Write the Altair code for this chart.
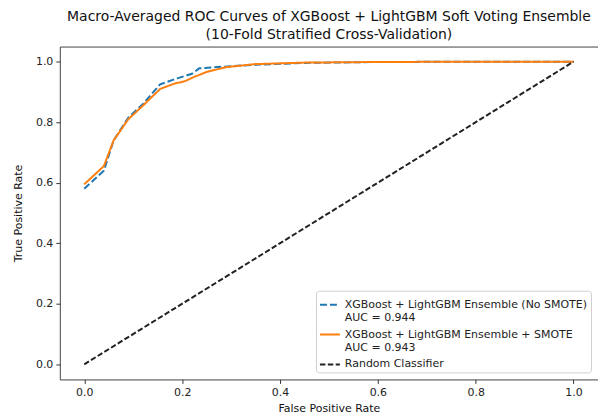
import altair as alt
import pandas as pd

# Series names (| marks a line break in the legend label)
s_no = "XGBoost + LightGBM Ensemble (No SMOTE)|AUC = 0.944"
s_sm = "XGBoost + LightGBM Ensemble + SMOTE|AUC = 0.943"
s_rc = "Random Classifier"

fpr_no = [0.0, 0.04, 0.06, 0.09, 0.12, 0.155, 0.19, 0.22, 0.235, 0.28, 0.35, 0.45, 0.6, 0.8, 1.0]
tpr_no = [0.58, 0.64, 0.74, 0.815, 0.86, 0.925, 0.945, 0.96, 0.978, 0.983, 0.99, 0.996, 0.999, 1.0, 1.0]

fpr_sm = [0.0, 0.04, 0.06, 0.09, 0.12, 0.155, 0.185, 0.205, 0.225, 0.25, 0.29, 0.35, 0.45, 0.6, 0.8, 1.0]
tpr_sm = [0.595, 0.655, 0.74, 0.81, 0.855, 0.91, 0.928, 0.935, 0.95, 0.966, 0.982, 0.992, 0.997, 0.999, 1.0, 1.0]

fpr_rc = [0.0, 1.0]
tpr_rc = [0.0, 1.0]

ticks = [0.0, 0.2, 0.4, 0.6, 0.8, 1.0]

rows = []
for name, fx, ty in [(s_no, fpr_no, tpr_no), (s_sm, fpr_sm, tpr_sm), (s_rc, fpr_rc, tpr_rc)]:
    for i, (a, b) in enumerate(zip(fx, ty)):
        rows.append({"series": name, "fpr": a, "tpr": b, "i": i})
df = pd.DataFrame(rows)

domain = [s_no, s_sm, s_rc]

chart = alt.Chart(df).mark_line().encode(
    x=alt.X("fpr:Q", title="False Positive Rate",
            scale=alt.Scale(domain=[-0.05, 1.05], nice=False, zero=False),
            axis=alt.Axis(values=ticks, format=".1f", titlePadding=5)),
    y=alt.Y("tpr:Q", title="True Positive Rate",
            scale=alt.Scale(domain=[-0.05, 1.05], nice=False, zero=False),
            axis=alt.Axis(values=ticks, format=".1f", titlePadding=12)),
    color=alt.Color("series:N", sort=domain,
                    scale=alt.Scale(domain=domain, range=["#1f77b4", "#ff7f0e", "#222222"]),
                    legend=alt.Legend(title=None, orient="none", legendX=257, legendY=245,
                                      labelExpr="split(datum.label, '|')",
                                      symbolType="stroke", symbolSize=400,
                                      symbolStrokeWidth=2, labelFontSize=11,
                                      labelFont="DejaVu Sans", labelColor="#222",
                                      fillColor="white", strokeColor="#d0d0d0",
                                      padding=3, cornerRadius=3, rowPadding=1,
                                      labelLimit=400)),
    strokeDash=alt.StrokeDash("series:N", sort=domain,
                              scale=alt.Scale(domain=domain, range=[[7, 3], [1, 0], [5.5, 2.4]])),
    strokeWidth=alt.StrokeWidth("series:N", sort=domain,
                                scale=alt.Scale(domain=domain, range=[2, 2, 1.5]), legend=None),
    order="i:Q",
).properties(
    width=540, height=334,
    title=alt.Title(["Macro-Averaged ROC Curves of XGBoost + LightGBM Soft Voting Ensemble",
                     "(10-Fold Stratified Cross-Validation)"],
                    font="DejaVu Sans", fontSize=14, fontWeight="normal", color="#111",
                    anchor="middle", offset=5, lineHeight=18),
    autosize=alt.AutoSizeParams(type="none"),
    padding={"left": 52, "top": 38, "right": 0, "bottom": 34},
).configure_view(
    stroke="#444", strokeWidth=1
).configure_axis(
    grid=False, domain=False, tickColor="#333", tickSize=4,
    labelFont="DejaVu Sans", labelFontSize=11, labelColor="#222",
    titleFont="DejaVu Sans", titleFontSize=11, titleFontWeight="normal", titleColor="#111",
    labelPadding=3,
)

chart.save("out.html", embed_options={"renderer": "svg", "actions": False})
